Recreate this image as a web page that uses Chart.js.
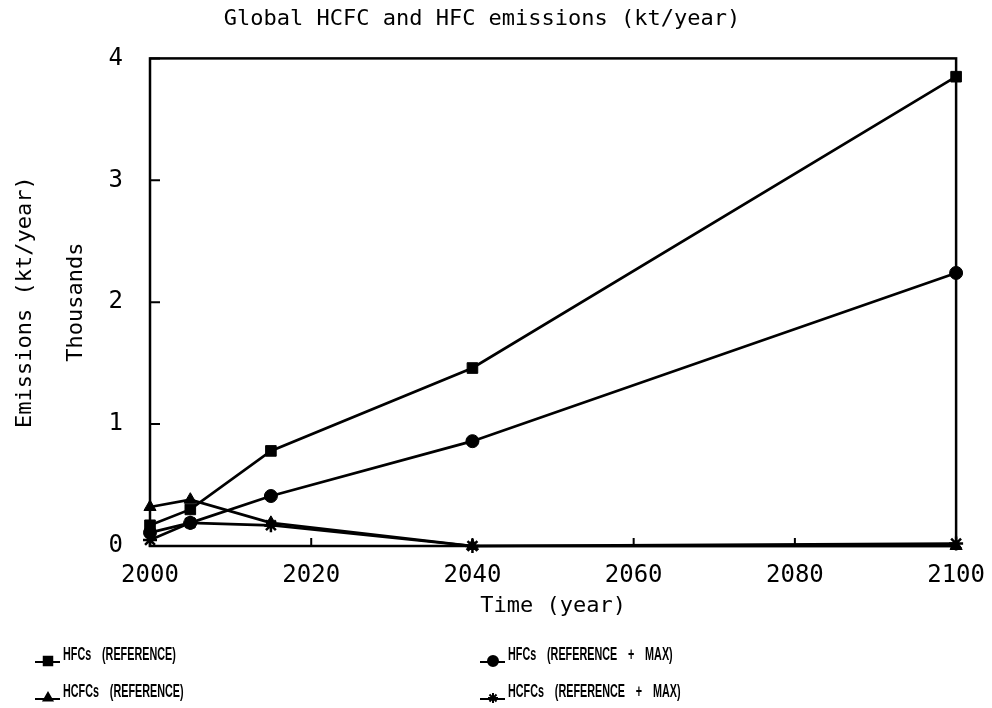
<!DOCTYPE html>
<html lang="en">
<head>
    <meta charset="UTF-8">
    <title>Global HCFC and HFC emissions</title>
    <script src="https://cdn.jsdelivr.net/npm/chart.js@4.4.1/dist/chart.umd.min.js"></script>
    <style>
        body {
            margin: 0;
            padding: 0;
            background: #fff;
        }
    </style>
</head>
<body>
<canvas id="myChart" width="992" height="708"></canvas>
<script>
    // values (thousands of kt/year)
    const years = [2000, 2005, 2015, 2040, 2100];
    const hfcRef = [0.17, 0.30, 0.78, 1.46, 3.85];
    const hfcMax = [0.11, 0.19, 0.41, 0.86, 2.24];
    const hcfcRef = [0.32, 0.38, 0.19, 0, 0];
    const hcfcMax = [0.05, 0.19, 0.17, 0, 0.02];
    const xTicks = [2000, 2020, 2040, 2060, 2080, 2100];
    const yTicks = [0, 1, 2, 3, 4];

    const monoFont = '"DejaVu Sans Mono", monospace';

    function pts(values) {
        return years.map((y, i) => ({x: y, y: values[i]}));
    }

    function series(label, values, style, radius) {
        return {
            label: label,
            data: pts(values),
            borderColor: '#000',
            backgroundColor: '#000',
            borderWidth: 2.7,
            pointStyle: style,
            pointRadius: radius,
            pointBorderWidth: style === 'star' ? 2.5 : 1,
            tension: 0,
            clip: false
        };
    }

    // box round the plot + tick marks pointing inwards
    const frame = {
        id: 'frame',
        beforeDatasetsDraw(chart) {
            const {ctx, chartArea: a, scales} = chart;
            ctx.save();
            ctx.strokeStyle = '#000';
            ctx.lineWidth = 2.5;
            ctx.strokeRect(a.left, a.top, a.right - a.left, a.bottom - a.top);
            ctx.lineWidth = 2;
            ctx.beginPath();
            scales.x.ticks.forEach(t => {
                const px = scales.x.getPixelForValue(t.value);
                ctx.moveTo(px, a.bottom);
                ctx.lineTo(px, a.bottom - 8);
            });
            scales.y.ticks.forEach(t => {
                const py = scales.y.getPixelForValue(t.value);
                ctx.moveTo(a.left, py);
                ctx.lineTo(a.left + 10, py);
            });
            ctx.stroke();
            ctx.restore();
        }
    };

    // two-column legend under the axis title
    const legendSpots = [[35, 655], [480, 655], [35, 692], [480, 692]];
    const gridLegend = {
        id: 'gridLegend',
        afterDraw(chart) {
            const ctx = chart.ctx;
            chart.data.datasets.forEach((ds, i) => {
                const [x, y] = legendSpots[i];
                ctx.save();
                ctx.strokeStyle = '#000';
                ctx.fillStyle = '#000';
                ctx.lineWidth = 2;
                ctx.beginPath();
                ctx.moveTo(x, y + 7);
                ctx.lineTo(x + 25, y + 7);
                ctx.stroke();
                Chart.helpers.drawPoint(ctx, {
                    pointStyle: ds.pointStyle,
                    radius: ds.pointStyle === 'rect' ? 6 : 5,
                    rotation: 0,
                    borderWidth: 2
                }, x + 13, y + 6);
                // the original lettering is very narrow with wide spaces
                ctx.translate(x + 28, y);
                ctx.scale(0.6, 1);
                ctx.font = 'bold 18px "Liberation Sans", sans-serif';
                ctx.wordSpacing = '13px';
                ctx.textBaseline = 'middle';
                ctx.fillText(ds.label, 0, 0);
                ctx.restore();
            });
        }
    };

    const ctx = document.getElementById('myChart').getContext('2d');
    const myChart = new Chart(ctx, {
        type: 'line',
        data: {
            datasets: [
                series('HFCs (REFERENCE)', hfcRef, 'rect', 7.5),
                series('HFCs (REFERENCE + MAX)', hfcMax, 'circle', 6.5),
                series('HCFCs (REFERENCE)', hcfcRef, 'triangle', 7),
                series('HCFCs (REFERENCE + MAX)', hcfcMax, 'star', 7)
            ]
        },
        options: {
            responsive: false,
            animation: false,
            layout: {
                padding: {left: 0, right: 28, top: 0, bottom: 87}
            },
            plugins: {
                legend: {display: false},
                tooltip: {enabled: false},
                title: {
                    display: true,
                    text: 'Global HCFC and HFC emissions (kt/year)',
                    color: '#000',
                    font: {family: monoFont, size: 22, weight: 'normal'},
                    padding: {top: 6, bottom: 26}
                }
            },
            scales: {
                x: {
                    type: 'linear',
                    min: xTicks[0],
                    max: xTicks[xTicks.length - 1],
                    afterBuildTicks: (s) => { s.ticks = xTicks.map(v => ({value: v})); },
                    grid: {display: false},
                    border: {display: false},
                    ticks: {
                        color: '#000',
                        padding: 7,
                        maxRotation: 0,
                        font: {family: monoFont, size: 24},
                        callback: (v) => String(v)
                    },
                    title: {
                        display: true,
                        text: 'Time (year)',
                        color: '#000',
                        font: {family: monoFont, size: 22},
                        padding: {top: 0, bottom: 2}
                    },
                    afterFit: (s) => { s.height = 75; }
                },
                y: {
                    min: yTicks[0],
                    max: yTicks[yTicks.length - 1],
                    afterBuildTicks: (s) => { s.ticks = yTicks.map(v => ({value: v})); },
                    grid: {display: false},
                    border: {display: false},
                    ticks: {
                        color: '#000',
                        padding: 19,
                        font: {family: monoFont, size: 24}
                    },
                    title: {
                        display: true,
                        text: ['Emissions (kt/year)', 'Thousands'],
                        color: '#000',
                        font: {family: monoFont, size: 22, lineHeight: 2.3},
                        padding: {top: 0, bottom: 0}
                    },
                    afterFit: (s) => { s.width = 150; }
                }
            }
        },
        plugins: [frame, gridLegend]
    });
</script>
</body>
</html>
